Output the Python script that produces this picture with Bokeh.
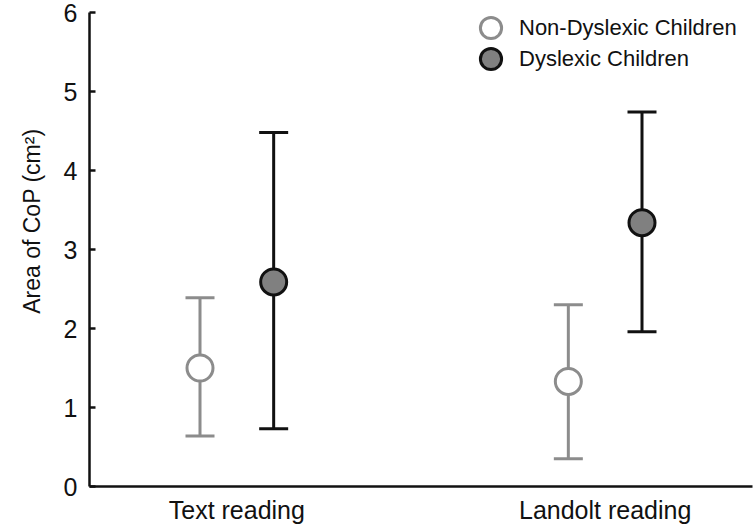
from bokeh.plotting import figure
from bokeh.models import (ColumnDataSource, FixedTicker, Legend, LegendItem,
                          Title, Whisker, TeeHead)
from bokeh.embed import file_html
from bokeh.resources import INLINE

# ---- data ----
conditions = ["Text reading", "Landolt reading"]
groups = ["Non-Dyslexic Children", "Dyslexic Children"]
nondys_mean = [1.50, 1.33]
nondys_upper = [2.39, 2.30]
nondys_lower = [0.64, 0.35]
dys_mean = [2.59, 3.34]
dys_upper = [4.48, 4.74]
dys_lower = [0.73, 1.96]
y_ticks = [0, 1, 2, 3, 4, 5, 6]
y_label = "Area of CoP (cm²)"

GRAY = "#8c8c8c"
BLACK = "#111111"
FILL_DYS = "#808080"
FONT = "Liberation Sans"

cat_x = [i + 1 for i in range(len(conditions))]
dodge = 0.1

src_nd = ColumnDataSource(dict(x=[c - dodge for c in cat_x], y=nondys_mean,
                               upper=nondys_upper, lower=nondys_lower))
src_d = ColumnDataSource(dict(x=[c + dodge for c in cat_x], y=dys_mean,
                              upper=dys_upper, lower=dys_lower))

p = figure(width=755, height=526, output_backend="svg", toolbar_location=None,
           x_range=(0.6, 2.4), y_range=(0, 6),
           min_border_left=89, min_border_right=3, min_border_top=12,
           min_border_bottom=33)
p.outline_line_color = None
p.xgrid.visible = False
p.ygrid.visible = False

for src, col in ((src_nd, GRAY), (src_d, BLACK)):
    w = Whisker(base="x", upper="upper", lower="lower", source=src,
                line_color=col, line_width=3, level="underlay",
                upper_head=TeeHead(size=29, line_color=col, line_width=3),
                lower_head=TeeHead(size=29, line_color=col, line_width=3))
    p.add_layout(w)

r_nd = p.scatter("x", "y", source=src_nd, size=26, fill_color="white",
                 line_color=GRAY, line_width=3)
r_d = p.scatter("x", "y", source=src_d, size=26, fill_color=FILL_DYS,
                line_color=BLACK, line_width=3)

for label, rend, vy in ((groups[0], r_nd, 432), (groups[1], r_d, 401)):
    lg = Legend(items=[LegendItem(label=label, renderers=[rend])],
                location=(375, vy), padding=0, spacing=0, margin=0,
                glyph_width=53, glyph_height=53, label_standoff=2,
                border_line_color=None, background_fill_alpha=0,
                label_text_font=FONT, label_text_font_size="22px",
                label_text_color=BLACK)
    p.add_layout(lg)

# axes
p.xaxis.ticker = FixedTicker(ticks=cat_x)
p.xaxis.major_label_overrides = {c: n for c, n in zip(cat_x, conditions)}
p.xaxis.minor_tick_line_color = None
p.xaxis.major_label_standoff = 3
p.yaxis.ticker = FixedTicker(ticks=y_ticks)
p.yaxis.major_tick_in = 6
p.yaxis.major_tick_out = 0
p.yaxis.minor_tick_line_color = None
p.yaxis.major_label_standoff = 12
for ax in (p.xaxis, p.yaxis):
    ax.axis_line_width = 2.5
    ax.axis_line_color = BLACK
    ax.major_tick_line_width = 2.5
    ax.major_label_text_font = FONT
    ax.major_label_text_font_size = "25px"
    ax.major_label_text_color = BLACK
p.yaxis.major_tick_line_color = BLACK
p.xaxis.major_tick_line_color = None

p.add_layout(Title(text=y_label, align="right", offset=116,
                   vertical_align="middle", standoff=30,
                   text_font=FONT, text_font_size="23px",
                   text_font_style="normal", text_color=BLACK), "left")

open("out.html", "w").write(file_html(p, INLINE))
